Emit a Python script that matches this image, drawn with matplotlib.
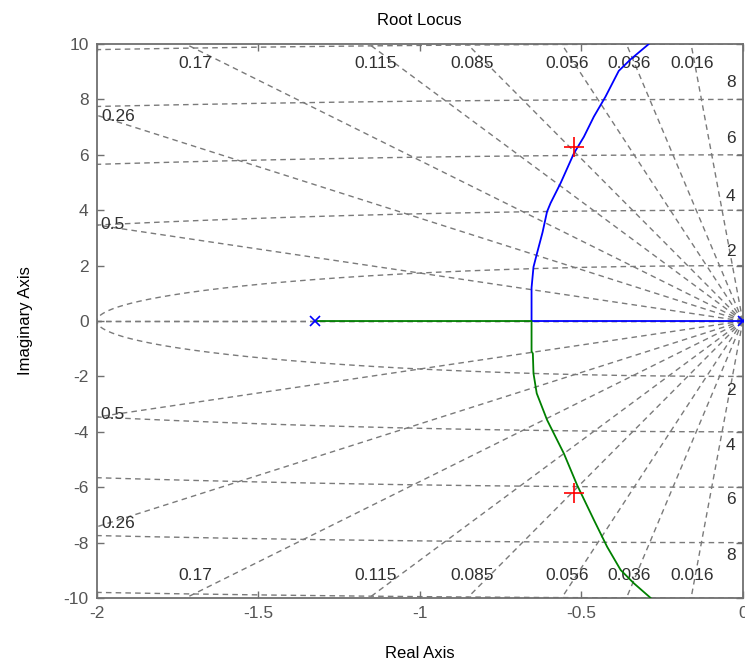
import numpy as np
import matplotlib
matplotlib.use('Agg')
import matplotlib.pyplot as plt

plt.rcParams['font.family'] = ['Liberation Sans', 'DejaVu Sans']
plt.rcParams['axes.unicode_minus'] = False

# open loop poles
pole_re = [-1.324, 0.0]
pole_im = [0.0, 0.0]

# closed loop poles for the chosen gain
cl_re = [-0.523, -0.523]
cl_im = [6.27, -6.22]

# branch going up (blue)
up_re = [0.0, -0.654, -0.654, -0.648, -0.637, -0.620, -0.606, -0.595, -0.564,
         -0.523, -0.492, -0.461, -0.425, -0.384, -0.347, -0.291, -0.28]
up_im = [0.0, 0.0, 1.2, 1.95, 2.45, 3.2, 3.95, 4.26, 4.98,
         6.05, 6.65, 7.38, 8.1, 9.03, 9.45, 10.0, 10.2]

# branch going down (green)
dn_re = [-1.324, -0.654, -0.654, -0.650, -0.648, -0.638, -0.606, -0.554,
         -0.513, -0.461, -0.420, -0.378, -0.337, -0.285, -0.275]
dn_im = [0.0, 0.0, -1.1, -1.17, -1.89, -2.61, -3.57, -4.78,
         -5.92, -7.18, -8.15, -8.99, -9.47, -10.0, -10.2]

# sgrid
zeta = [0.016, 0.036, 0.056, 0.085, 0.115, 0.17, 0.26, 0.5]
zeta_lab = ['0.016', '0.036', '0.056', '0.085', '0.115', '0.17', '0.26', '0.5']
zeta_lab_x = [-0.156, -0.352, -0.544, -0.838, -1.138, -1.696, -1.935, -1.95]
zeta_lab_y = [9.3, 9.3, 9.3, 9.3, 9.3, 9.3, 7.38, 3.47]
zeta_lab_y_neg = [-9.2, -9.2, -9.2, -9.2, -9.2, -9.2, -7.3, -3.39]
wn = [2, 4, 6, 8, 10]
wn_lab = ['2', '4', '6', '8']
wn_lab_y = [2.5, 4.5, 6.6, 8.6]
wn_lab_y_neg = [-2.49, -4.48, -6.46, -8.45]

fig = plt.figure(figsize=(7.45, 6.67), dpi=100)
ax = fig.add_axes([0.130, 0.1034, 0.867, 0.8306])

gcol = '#7a7a7a'
gls = (0, (4, 3))
for z in zeta + [1.0]:
    th = np.arccos(z)
    r = 100.0
    ax.plot([0, -r * np.cos(th)], [0, r * np.sin(th)], color=gcol, lw=1, ls=gls, zorder=1)
    ax.plot([0, -r * np.cos(th)], [0, -r * np.sin(th)], color=gcol, lw=1, ls=gls, zorder=1)

t = np.linspace(np.pi / 2, 3 * np.pi / 2, 2000)
for w in wn:
    ax.plot(w * np.cos(t), w * np.sin(t), color=gcol, lw=1, ls=gls, zorder=1)

lab_kw = dict(fontsize=12.5, color='#303030', ha='center', va='center', zorder=2)
for s, x, y1, y2 in zip(zeta_lab, zeta_lab_x, zeta_lab_y, zeta_lab_y_neg):
    ax.text(x, y1, s, **lab_kw)
    ax.text(x, y2, s, **lab_kw)
for s, y1, y2 in zip(wn_lab, wn_lab_y, wn_lab_y_neg):
    ax.text(-0.037, y1, s, **lab_kw)
    ax.text(-0.037, y2, s, **lab_kw)

ax.plot(up_re, up_im, color='#0000ff', lw=1.3, zorder=3)
ax.plot(dn_re, dn_im, color='#008000', lw=1.3, zorder=3)
ax.plot(pole_re, pole_im, ls='none', marker='x', color='#0000ff', ms=7, mew=1.2, zorder=4)
ax.plot(cl_re, cl_im, ls='none', marker='+', color='#ff0000', ms=14, mew=1.2, zorder=4)

ax.set_xlim(-2, 0)
ax.set_ylim(-10, 10)
ax.set_xticks([-2, -1.5, -1, -0.5, 0])
ax.set_xticklabels(['-2', '-1.5', '-1', '-0.5', '0'])
ax.set_yticks(np.arange(-10, 11, 2))
ax.tick_params(direction='in', top=True, right=True, length=5, width=1,
               color='#707070', labelcolor='#555555', labelsize=12.5, pad=6)
for sp in ax.spines.values():
    sp.set_color('#707070')
    sp.set_linewidth(1.3)

ax.set_title('Root Locus', fontsize=12, pad=14)
ax.set_xlabel('Real Axis', fontsize=12, labelpad=18)
ax.set_ylabel('Imaginary Axis', fontsize=12, labelpad=22)

fig.savefig('out.png', dpi=100)
